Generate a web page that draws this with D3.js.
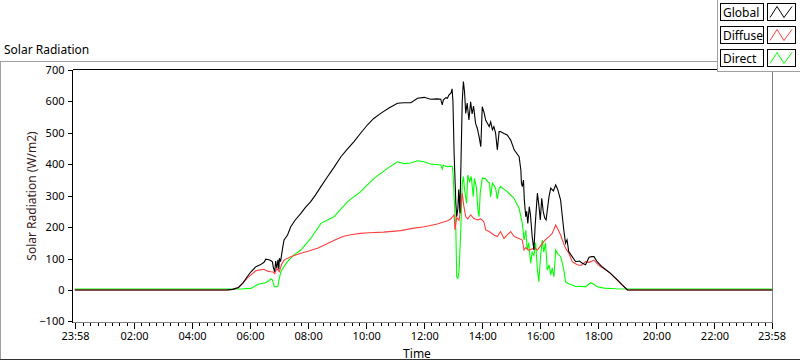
<!DOCTYPE html>
<html>
<head>
<meta charset="utf-8">
<script src="https://cdn.jsdelivr.net/npm/d3@7"></script>
<style>
body { margin: 0; background: #fff; }
svg { display: block; font-family: 'Noto Sans', sans-serif; }
</style>
</head>
<body>
<svg width="800" height="361"></svg>
<script>
// values: [hour of day, W/m2]
var globalData = [[-0.04,0],[5.2,0],[5.4,2],[5.6,8],[5.75,22],[5.9,42],[6.03,58],[6.2,74],[6.35,80],[6.48,88],[6.54,98],[6.65,96],[6.71,94],[6.77,90],[6.8,72],[6.85,58],[6.88,92],[6.92,70],[6.96,96],[6.99,65],[7.01,101],[7.05,90],[7.12,133],[7.17,159],[7.29,175],[7.4,201],[7.55,222],[7.75,244],[7.9,262],[8.09,281],[8.25,302],[8.44,329],[8.65,358],[8.89,390],[9.13,424],[9.35,448],[9.58,472],[9.8,498],[10.04,525],[10.25,545],[10.5,562],[10.8,580],[11.08,594],[11.3,596],[11.54,596],[11.77,610],[12.0,613],[12.22,607],[12.45,608],[12.57,607],[12.62,589],[12.66,605],[12.75,612],[12.8,610],[12.85,620],[12.93,628],[12.96,640],[12.99,600],[13.03,435],[13.09,276],[13.12,233],[13.16,260],[13.19,320],[13.23,244],[13.27,420],[13.31,600],[13.35,663],[13.39,630],[13.43,562],[13.48,595],[13.54,541],[13.6,599],[13.65,560],[13.7,585],[13.77,530],[13.83,514],[13.89,488],[13.95,456],[14.0,583],[14.06,565],[14.12,540],[14.18,530],[14.24,520],[14.29,535],[14.35,510],[14.4,520],[14.46,499],[14.52,446],[14.58,504],[14.63,504],[14.75,498],[14.86,493],[14.98,477],[15.1,446],[15.27,424],[15.33,382],[15.35,340],[15.38,329],[15.42,350],[15.45,286],[15.5,233],[15.53,250],[15.57,212],[15.62,265],[15.66,240],[15.72,170],[15.78,127],[15.82,200],[15.86,255],[15.9,308],[15.95,270],[16.0,223],[16.05,292],[16.1,250],[16.15,230],[16.2,223],[16.3,297],[16.36,324],[16.45,315],[16.53,334],[16.6,320],[16.7,286],[16.76,233],[16.81,191],[16.87,149],[16.92,160],[16.98,122],[17.1,106],[17.22,90],[17.35,92],[17.45,85],[17.56,80],[17.68,104],[17.78,106],[17.85,106],[17.96,90],[18.08,78],[18.19,69],[18.42,53],[18.65,32],[18.82,16],[19.0,0],[24,0]];

var diffuseData = [[-0.04,0],[5.2,0],[5.4,2],[5.6,8],[5.75,22],[5.9,38],[6.03,48],[6.2,61],[6.35,64],[6.48,66],[6.6,60],[6.71,58],[6.8,57],[6.85,52],[6.92,69],[6.97,62],[7.01,58],[7.08,80],[7.17,95],[7.4,106],[7.75,117],[8.05,125],[8.32,133],[8.6,145],[8.9,158],[9.2,170],[9.47,176],[9.8,180],[10.1,182],[10.6,184],[11.19,189],[11.6,196],[12.0,201],[12.45,210],[12.8,220],[12.9,225],[13.03,239],[13.06,191],[13.12,230],[13.2,222],[13.26,260],[13.31,308],[13.36,270],[13.43,233],[13.5,226],[13.6,239],[13.7,228],[13.83,223],[13.95,226],[14.05,218],[14.12,191],[14.25,185],[14.4,175],[14.52,170],[14.63,186],[14.75,164],[14.86,175],[14.98,186],[15.1,170],[15.27,164],[15.38,159],[15.44,127],[15.5,135],[15.6,127],[15.7,130],[15.8,135],[15.9,127],[15.95,133],[16.07,148],[16.18,160],[16.3,170],[16.41,180],[16.53,207],[16.6,195],[16.7,175],[16.76,159],[16.87,133],[16.98,118],[17.1,90],[17.27,80],[17.4,78],[17.56,90],[17.68,88],[17.85,95],[18.0,80],[18.08,74],[18.19,69],[18.42,53],[18.65,32],[18.82,16],[19.0,0],[24,0]];

var directData = [[-0.04,3],[5.4,3],[5.7,3],[6.03,5],[6.3,19],[6.54,23],[6.65,30],[6.71,35],[6.77,32],[6.83,11],[6.9,10],[6.96,12],[7.0,34],[7.06,58],[7.15,72],[7.29,90],[7.5,111],[7.75,127],[8.09,164],[8.44,212],[8.89,233],[9.36,281],[9.81,313],[10.27,355],[10.73,387],[11.08,408],[11.3,402],[11.54,404],[11.77,411],[12.0,408],[12.22,401],[12.57,398],[12.62,385],[12.66,397],[12.8,392],[12.9,394],[12.97,392],[13.0,361],[13.04,276],[13.09,191],[13.12,42],[13.16,37],[13.2,60],[13.26,191],[13.31,339],[13.35,361],[13.39,320],[13.46,276],[13.5,366],[13.56,345],[13.62,361],[13.69,297],[13.73,355],[13.8,325],[13.85,255],[13.89,233],[13.93,310],[14.0,355],[14.1,355],[14.18,345],[14.25,340],[14.29,297],[14.35,340],[14.46,324],[14.52,290],[14.58,324],[14.63,329],[14.86,313],[15.09,292],[15.27,260],[15.38,212],[15.44,159],[15.5,190],[15.55,127],[15.6,150],[15.67,85],[15.72,120],[15.78,110],[15.84,150],[15.9,64],[15.95,26],[16.01,110],[16.07,159],[16.12,120],[16.18,150],[16.24,64],[16.3,80],[16.36,48],[16.41,70],[16.47,42],[16.53,127],[16.6,115],[16.7,106],[16.76,85],[16.81,64],[16.87,26],[16.98,20],[17.1,16],[17.22,11],[17.4,12],[17.56,10],[17.73,23],[17.85,18],[17.96,10],[18.2,6],[18.6,4],[19.0,3],[24,3]];

var seriesNames = ['Global', 'Diffuse', 'Direct'];
var seriesColors = ['#000000', '#ff3f3f', '#00ff00'];

var xMajorTicks = [-2/60, 2, 4, 6, 8, 10, 12, 14, 16, 18, 20, 22, 24 - 2/60];
var xTickLabels = ['23:58', '02:00', '04:00', '06:00', '08:00', '10:00', '12:00', '14:00', '16:00', '18:00', '20:00', '22:00', '23:58'];
var yTicks = [-100, 0, 100, 200, 300, 400, 500, 600, 700];

var svg = d3.select('svg');

// plot box edges
var box = {l: 73, t: 70, r: 772, b: 322};

var xScale = d3.scaleLinear().domain([-2/60, 24 - 2/60]).range([75, 771.5]);
var yScale = d3.scaleLinear().domain([-100, 700]).range([321.4, 70]);

// outer panel
svg.append('line').attr('x1', 0).attr('x2', 800).attr('y1', 61.5).attr('y2', 61.5).attr('stroke', '#a0a0a0');
svg.append('line').attr('x1', 0.5).attr('x2', 0.5).attr('y1', 61.5).attr('y2', 360).attr('stroke', '#a0a0a0');
svg.append('line').attr('x1', 0).attr('x2', 800).attr('y1', 359.5).attr('y2', 359.5).attr('stroke', '#333');

svg.append('text').attr('x', 4).attr('y', 54).style('font-size', '12px').text('Solar Radiation');

// plot background + border
svg.append('rect').attr('x', box.l).attr('y', box.t).attr('width', box.r - box.l).attr('height', box.b - box.t).attr('fill', '#fff');
svg.append('line').attr('x1', box.r + 0.5).attr('x2', box.r + 0.5).attr('y1', box.t).attr('y2', box.b + 0.5).attr('stroke', '#808080');
svg.append('line').attr('x1', box.l).attr('x2', box.r + 1).attr('y1', box.b + 0.5).attr('y2', box.b + 0.5).attr('stroke', '#808080');

// minor x ticks every 15 minutes
var minorTicks = d3.range(0.25, 24, 0.25).filter(function(h) { return h % 2 !== 0; });

var xMinor = d3.axisBottom(xScale).tickValues(minorTicks).tickSize(3).tickFormat('');
svg.append('g').attr('class', 'x minor').attr('transform', 'translate(0,' + (box.b + 1) + ')').call(xMinor);

var xAxis = d3.axisBottom(xScale).tickValues(xMajorTicks).tickSize(6).tickPadding(3)
    .tickFormat(function(d, i) { return xTickLabels[i]; });
svg.append('g').attr('class', 'x axis').attr('transform', 'translate(0,' + (box.b + 1) + ')').call(xAxis);

var yAxis = d3.axisLeft(yScale).tickValues(yTicks).tickSize(5).tickPadding(3);
svg.append('g').attr('class', 'y axis').attr('transform', 'translate(' + (box.l - 0.5) + ',0)').call(yAxis);

svg.selectAll('.axis .domain, .minor .domain').remove();
svg.selectAll('.axis text').style('font-size', '11px').style('font-family', "'Noto Sans', sans-serif").attr('fill', '#000');
svg.selectAll('.axis line, .minor line').attr('stroke', '#000').attr('shape-rendering', 'crispEdges');

svg.append('line').attr('x1', box.l - 0.5).attr('x2', box.l - 0.5).attr('y1', box.t).attr('y2', box.b + 1).attr('stroke', '#000');
svg.append('line').attr('x1', box.l).attr('x2', box.r + 1).attr('y1', box.t - 0.5).attr('y2', box.t - 0.5).attr('stroke', '#000');

// axis titles
svg.append('text').attr('transform', 'translate(36,196) rotate(-90)').attr('text-anchor', 'middle')
    .style('font-size', '12px').attr('fill', '#3c1c1c').text('Solar Radiation (W/m2)');
svg.append('text').attr('x', 417).attr('y', 358).attr('text-anchor', 'middle')
    .style('font-size', '12px').text('Time');

// lines
var lineGen = d3.line().x(function(d) { return xScale(d[0]); }).y(function(d) { return yScale(d[1]); });
var allSeries = [globalData, diffuseData, directData];
[2, 1, 0].forEach(function(i) {
    svg.append('path').attr('class', 'line-plot')
        .attr('d', lineGen(allSeries[i]))
        .attr('fill', 'none').attr('stroke', seriesColors[i]).attr('stroke-width', 1.1);
});

// legend
var leg = svg.append('g').attr('class', 'legend');
leg.append('rect').attr('x', 717.5).attr('y', -1).attr('width', 90).attr('height', 72.5)
    .attr('fill', '#fff').attr('stroke', '#a0a0a0');
seriesNames.forEach(function(name, i) {
    var ty = 3.5 + i * 23;
    leg.append('rect').attr('x', 720.5).attr('y', ty).attr('width', 43).attr('height', 17)
        .attr('fill', '#fff').attr('stroke', '#000');
    leg.append('text').attr('x', 723).attr('y', ty + 13).style('font-size', '12px').text(name);
    leg.append('rect').attr('x', 767.5).attr('y', ty).attr('width', 28).attr('height', 17)
        .attr('fill', '#fff').attr('stroke', '#000');
    var pts = [[770, ty + 14], [777, ty + 3], [784, ty + 14], [792, ty + 3]];
    leg.append('path').attr('d', d3.line()(pts)).attr('fill', 'none').attr('stroke', seriesColors[i]);
});
</script>
</body>
</html>
